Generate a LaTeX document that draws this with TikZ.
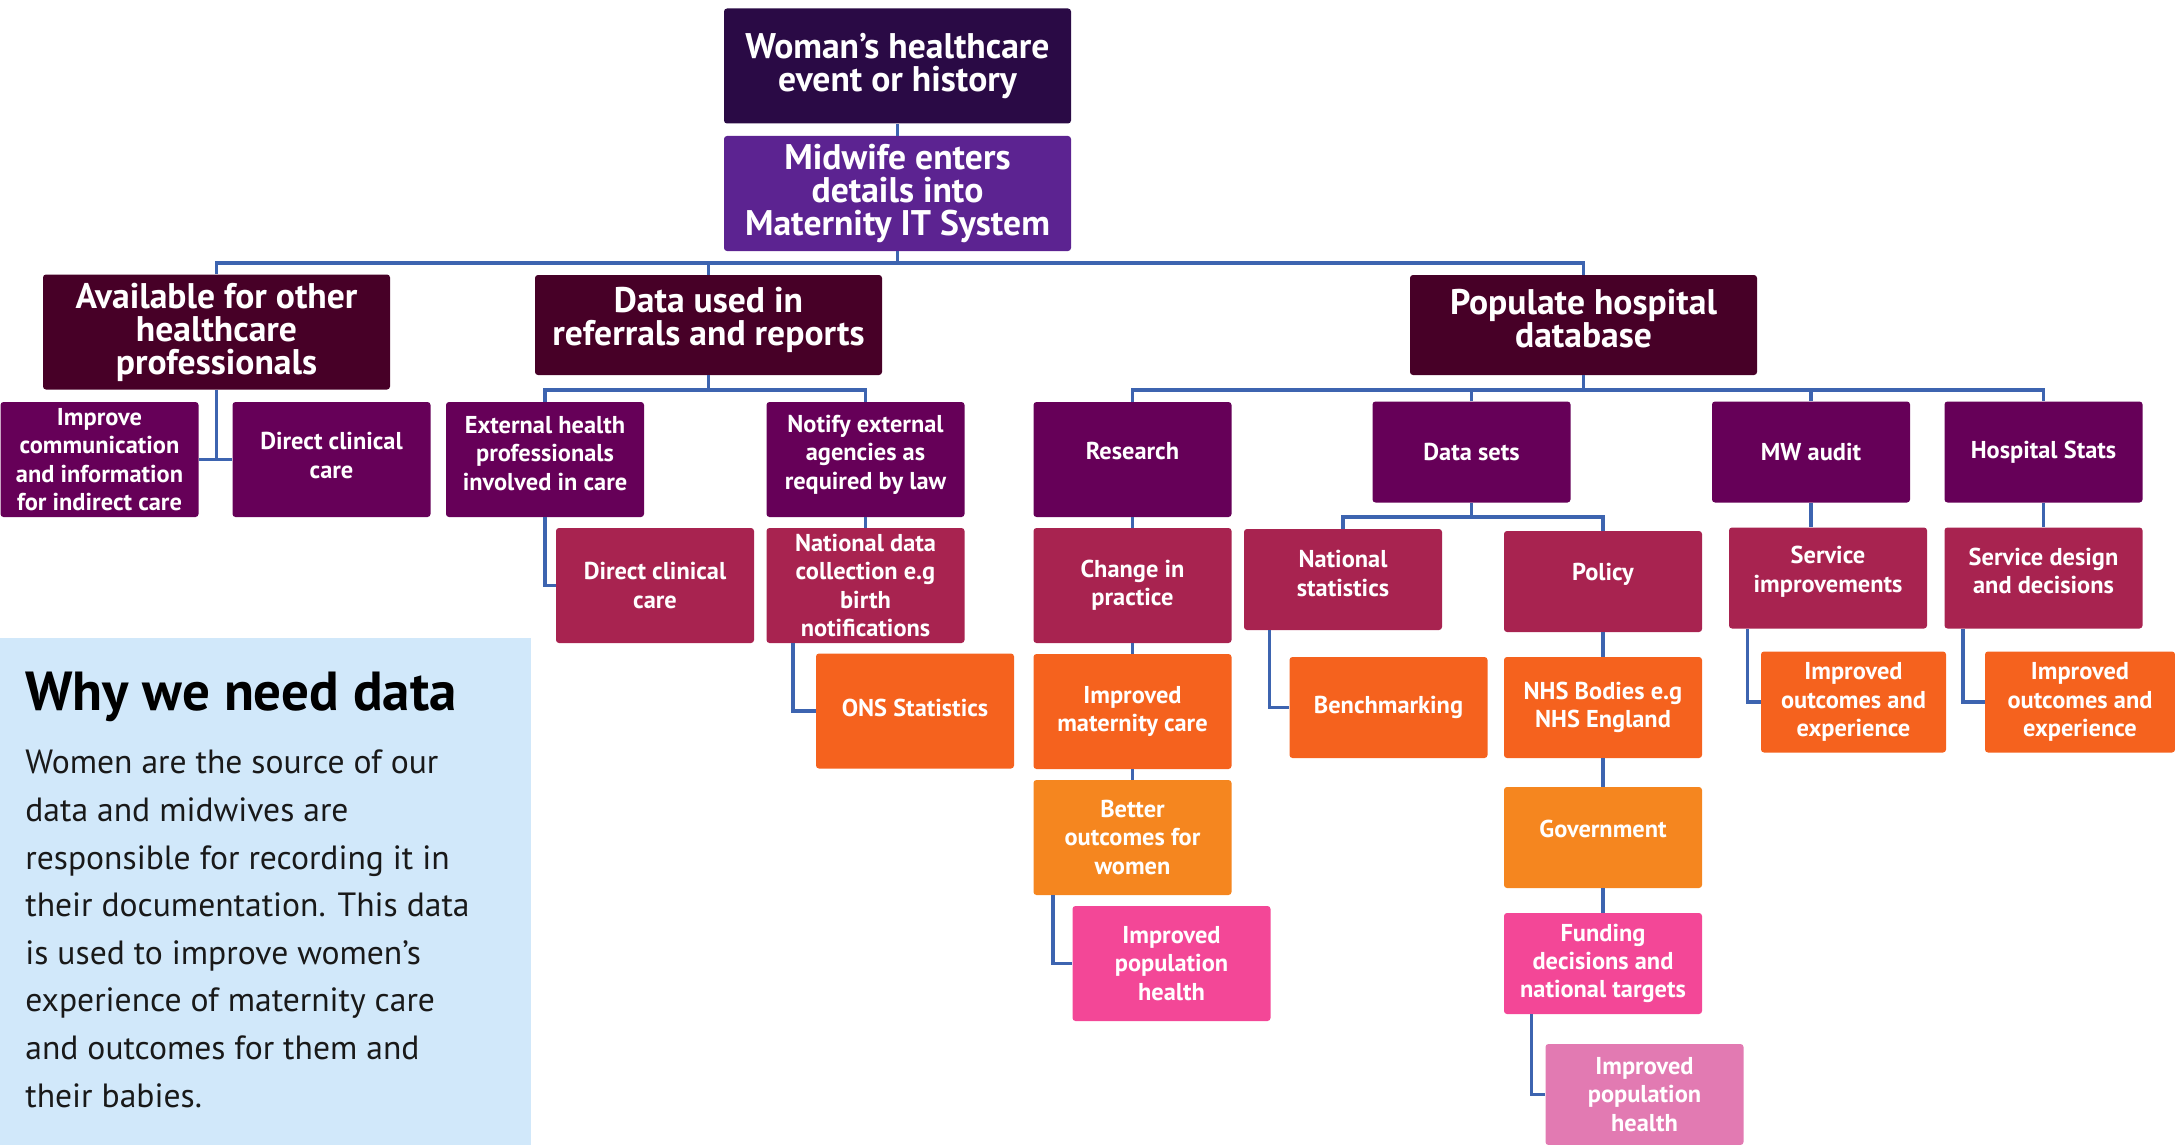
\documentclass[tikz,border=0pt]{standalone}
\usepackage{fontspec}
\setmainfont{PT Sans}
\usetikzlibrary{positioning}
\definecolor{nightplum}{HTML}{2A0A45}
\definecolor{midviolet}{HTML}{5C2391}
\definecolor{wine}{HTML}{470027}
\definecolor{deepmag}{HTML}{660058}
\definecolor{crimson}{HTML}{A82350}
\definecolor{flame}{HTML}{F5621E}
\definecolor{amber}{HTML}{F5861F}
\definecolor{hotpink}{HTML}{F34797}
\definecolor{rosepink}{HTML}{E27AB2}
\definecolor{paleblue}{HTML}{D1E8FA}
\definecolor{linkblue}{HTML}{3D64B0}
\begin{document}
\begin{tikzpicture}[x=0.5pt,y=-0.5pt,node distance=63pt,
    big node/.style={rectangle,rounded corners=1.5pt,inner sep=0pt,text=white,align=center,
      minimum width=173.5pt,minimum height=57.5pt,font=\fontsize{17.8}{16.5}\selectfont\bfseries},
    main node/.style={rectangle,rounded corners=1.5pt,inner sep=0pt,text=white,align=center,
      minimum width=99pt,minimum height=57.5pt,font=\fontsize{12.2}{14.2}\selectfont\bfseries},
    short/.style={minimum height=50.5pt},
    lift/.style={text depth=#1},
    link/.style={draw=linkblue,line width=1.75pt}]
  \useasboundingbox (0,0) rectangle (2175,1145);
  % info panel
  \fill[paleblue] (0,638) rectangle (531,1145);
  \node[anchor=base west,inner sep=0pt,font=\fontsize{27.5}{30}\selectfont\bfseries] (why) at (25,710) {Why we need data};
  \node[anchor=base west,inner sep=0pt,align=left,text=black!90,font=\fontsize{16.8}{23.8}\selectfont] (body) at (25,1107)
    {Women are the source of our\\data and midwives are\\responsible for recording it in\\their documentation. This data\\is used to improve women’s\\experience of maternity care\\and outcomes for them and\\their babies.};
  % top of the tree
  \node[big node,fill=nightplum] (1) at (897.5,66) {Woman’s healthcare\\event or history};
  \node[big node,fill=midviolet] (2) at (897.5,193.5) {Midwife enters\\details into\\Maternity IT System};
  \node[big node,fill=wine] (3) at (216.5,332) {Available for other\\healthcare\\professionals};
  \node[big node,fill=wine,minimum height=50pt,lift=8.7pt] (4) at (708.5,325) {Data used in\\referrals and reports};
  \node[big node,fill=wine,minimum height=50pt,lift=7pt] (5) at (1583.5,325) {Populate hospital\\database};
  % second row
  \node[main node,fill=deepmag] (6) at (99.5,459.5) {Improve\\communication\\and information\\for indirect care};
  \node[main node,fill=deepmag,lift=4pt] (7) at (331.5,459.5) {Direct clinical\\care};
  \node[main node,fill=deepmag,lift=6.2pt] (8) at (545,459.5) {External health\\professionals\\involved in care};
  \node[main node,fill=deepmag,lift=7.5pt] (9) at (865.5,459.5) {Notify external\\agencies as\\required by law};
  \node[main node,fill=deepmag,lift=8.4pt] (10) at (1132.5,459.5) {Research};
  \node[main node,short,fill=deepmag] (11) at (1471.5,452) {Data sets};
  \node[main node,short,fill=deepmag] (12) at (1811,452) {MW audit};
  \node[main node,short,fill=deepmag] (13) at (2043.5,452) {Hospital Stats};
  % third row
  \node[main node,fill=crimson] (14) at (655,585.5) {Direct clinical\\care};
  \node[main node,fill=crimson] (15) at (865.5,585.5) {National data\\collection e.g\\birth\\notifications};
  \node[main node,fill=crimson] (16) [below of=10] {Change in\\practice};
  \node[main node,short,fill=crimson,lift=6.2pt] (17) at (1343,579.5) {National\\statistics};
  \node[main node,short,fill=crimson,lift=9.7pt] (18) at (1603,581.5) {Policy};
  \node[main node,short,fill=crimson,lift=8.9pt] (19) at (1828,578) {Service\\improvements};
  \node[main node,short,fill=crimson,lift=7pt] (20) at (2043.5,578) {Service design\\and decisions};
  % fourth row
  \node[main node,fill=flame,lift=3pt] (21) at (915,711) {ONS Statistics};
  \node[main node,fill=flame] (22) [below of=16] {Improved\\maternity care};
  \node[main node,short,fill=flame] (23) at (1388.5,707.5) {Benchmarking};
  \node[main node,short,fill=flame] (24) [below of=18] {NHS Bodies e.g\\NHS England};
  \node[main node,short,fill=flame,minimum width=92.5pt] (25) at (1853.5,702) {Improved\\outcomes and\\experience};
  \node[main node,short,fill=flame,minimum width=95pt] (26) at (2080,702) {Improved\\outcomes and\\experience};
  % lower rows
  \node[main node,fill=amber] (27) [below of=22] {Better\\outcomes for\\women};
  \node[main node,short,fill=amber,lift=8.4pt] (28) at (1603,837.5) {Government};
  \node[main node,fill=hotpink] (29) at (1171.5,963.5) {Improved\\population\\health};
  \node[main node,short,fill=hotpink] (30) [below of=28] {Funding\\decisions and\\national targets};
  \node[main node,short,fill=rosepink] (31) at (1644.5,1094.5) {Improved\\population\\health};
  % connectors
  \coordinate (b1) at (897.5,263);
  \coordinate (b2) at (708.5,390);
  \coordinate (b3) at (1583.5,390);
  \coordinate (b4) at (1471.5,517);
  \draw[link] (1) -- (2);
  \draw[link] (2) -- (b1);
  \draw[link] (3) |- (b1) -| (5);
  \draw[link] (4) -- (4 |- b1);
  \draw[link] (3) -- (3 |- 6.east);
  \draw[link] (6) -- (7);
  \draw[link] (4) -- (b2);
  \draw[link] (8) |- (b2) -| (9);
  \draw[link] (8) |- (14);
  \draw[link] (9) -- (15);
  \draw[link] ([xshift=13.5pt]15.south west) |- (21);
  \draw[link] (5) -- (b3);
  \draw[link] (10) |- (b3) -| (13);
  \draw[link] (11) -- (11 |- b3);
  \draw[link] (12) -- (12 |- b3);
  \draw[link] (10) -- (16) -- (22) -- (27);
  \draw[link] ([xshift=10pt]27.south west) |- (29);
  \draw[link] (11) -- (b4);
  \draw[link] (17) |- (b4) -| (18);
  \draw[link] ([xshift=13pt]17.south west) |- (23);
  \draw[link] (18) -- (24) -- (28) -- (30);
  \draw[link] ([xshift=14pt]30.south west) |- (31);
  \draw[link] (12) -- (12 |- 19.north);
  \draw[link] (13) -- (20);
  \draw[link] ([xshift=9.5pt]19.south west) |- (25);
  \draw[link] ([xshift=9.5pt]20.south west) |- (26);
\end{tikzpicture}
\end{document}
